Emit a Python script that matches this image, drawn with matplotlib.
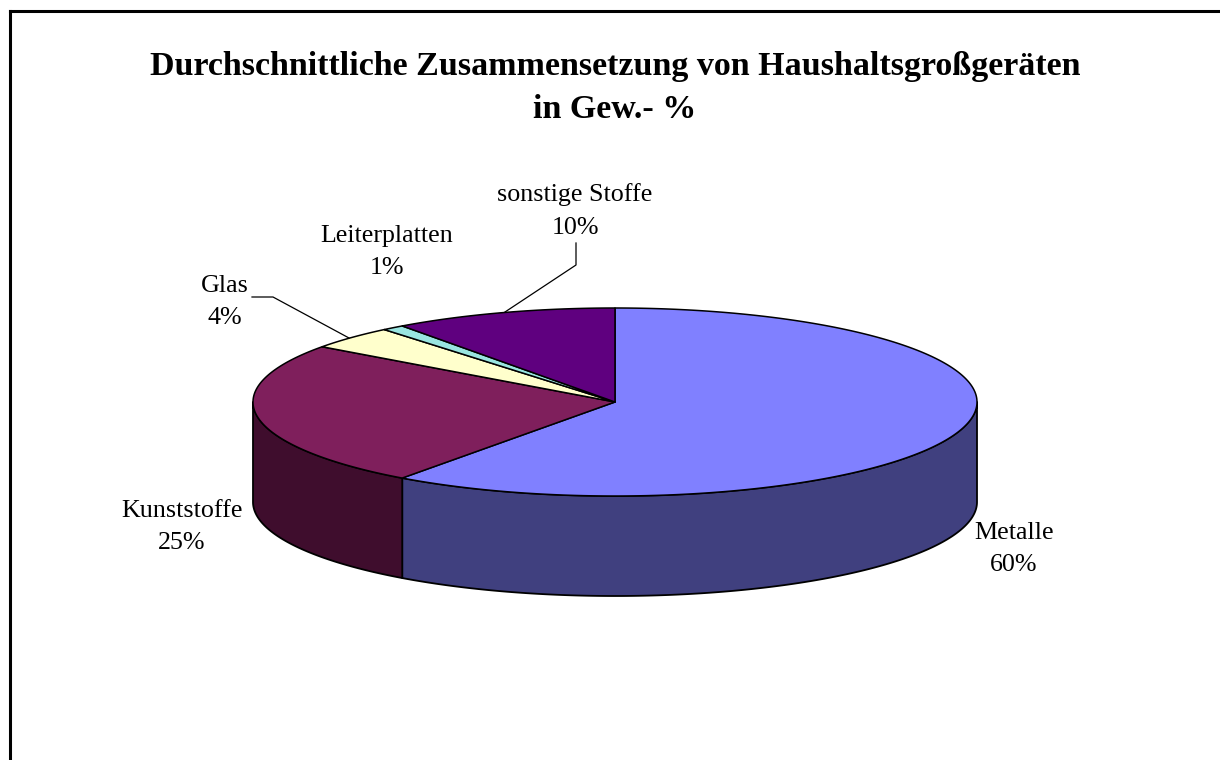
import numpy as np
import matplotlib
matplotlib.use('Agg')
import matplotlib.pyplot as plt

categories = ['Metalle', 'Kunststoffe', 'Glas', 'Leiterplatten', 'sonstige Stoffe']
shares = [60, 25, 4, 1, 10]
top_colors = ['#8080FF', '#7F1F5C', '#FFFFCC', '#99E5E0', '#5F007F']
side_colors = ['#40407F', '#3F0D2D', '#7F7F66', '#4C7270', '#2F003F']

cx, cy = 615, 402
rx, ry = 362, 94
depth = 100

plt.rcParams['font.family'] = ['Liberation Serif', 'DejaVu Serif']

fig = plt.figure(figsize=(12.2, 7.6), dpi=100)
ax = fig.add_axes([0, 0, 1, 1])
ax.set_xlim(0, 1220)
ax.set_ylim(760, 0)
ax.axis('off')


def rim(a0, a1):
    # angles in degrees, clockwise from 12 o'clock
    t = np.radians(np.linspace(a0, a1, max(int(abs(a1 - a0) * 3), 2)))
    return cx + rx * np.sin(t), cy - ry * np.cos(t)


edges = np.cumsum([0] + shares) / sum(shares) * 360

# side walls, only the front half of the rim shows
for i in range(len(shares)):
    a0, a1 = max(edges[i], 90), min(edges[i + 1], 270)
    if a1 <= a0:
        continue
    x, y = rim(a0, a1)
    ax.fill(np.r_[x, x[::-1]], np.r_[y, y[::-1] + depth],
            facecolor=side_colors[i], edgecolor='black', lw=1.3, joinstyle='round', zorder=2)

# top face
for i in range(len(shares)):
    x, y = rim(edges[i], edges[i + 1])
    ax.fill(np.r_[cx, x], np.r_[cy, y],
            facecolor=top_colors[i], edgecolor='black', lw=1.1, joinstyle='round', zorder=3)

# leader lines
ax.plot([252, 273, 349], [297, 297, 338], color='black', lw=0.9, zorder=4)
ax.plot([576, 576, 505], [243, 265, 312], color='black', lw=0.9, zorder=4)

label_pos = [(1014, 549), (182, 527), (225, 302), (387, 252), (575, 211)]
for name, share, (lx, ly) in zip(categories, shares, label_pos):
    ax.text(lx, ly, f'{name}\n{share}%', ha='center', va='center',
            fontsize=18.7, color='black', linespacing=1.63, zorder=5)

ax.text(615, 88.5, 'Durchschnittliche Zusammensetzung von Haushaltsgroßgeräten\nin Gew.- %',
        ha='center', va='center', fontsize=24.5, fontweight='bold', color='black',
        linespacing=1.5)

# frame: only top and left edges are in the picture
ax.plot([9.5, 9.5], [760, 10.5], color='black', lw=2.2, solid_capstyle='projecting', zorder=6)
ax.plot([9.5, 1220], [10.5, 10.5], color='black', lw=2.2, solid_capstyle='projecting', zorder=6)

fig.savefig('out.png', dpi=100, facecolor='white')
plt.close(fig)
